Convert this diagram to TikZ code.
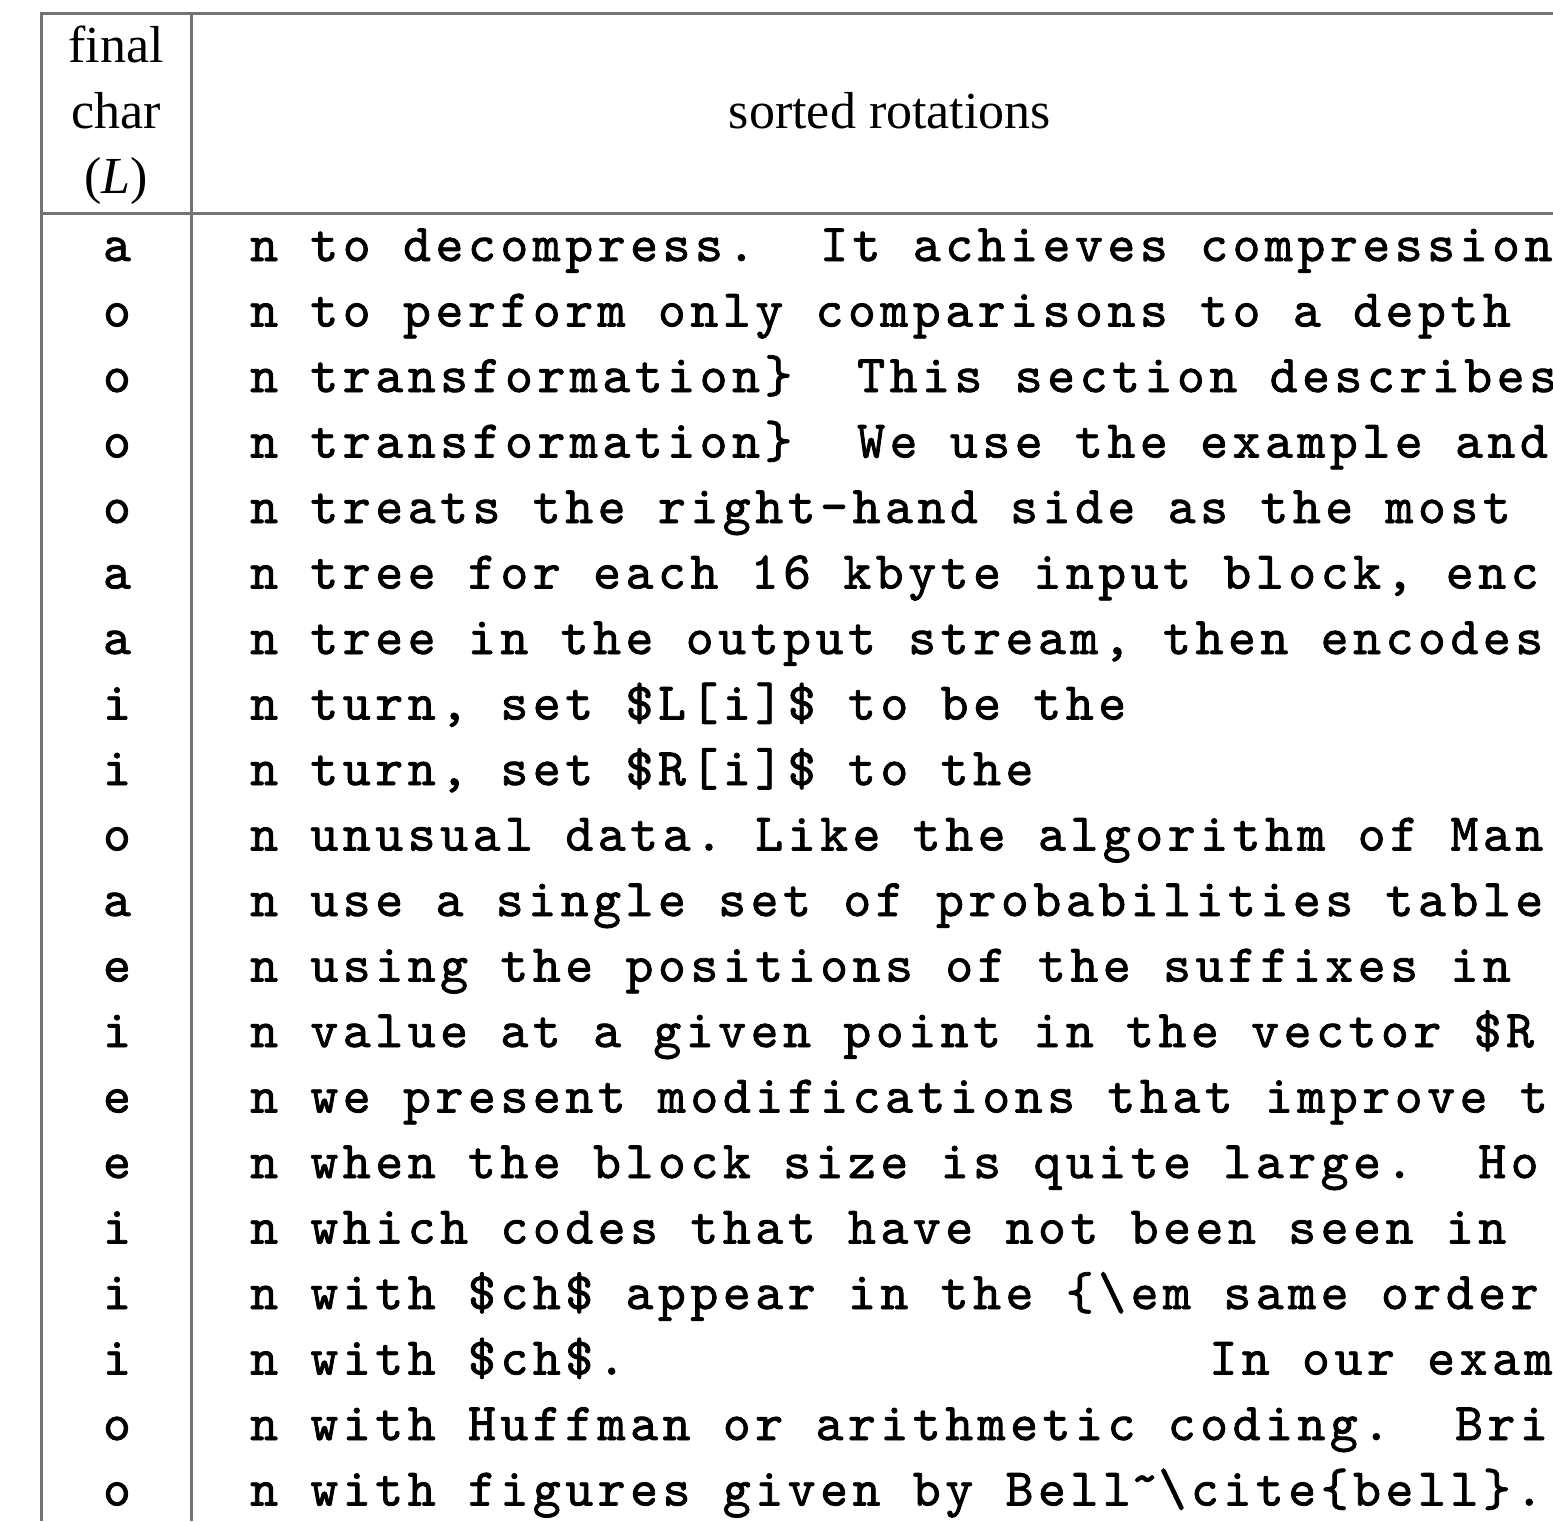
\documentclass[tikz,border=0pt]{standalone}
\usepackage{fontspec}
\setmainfont{Liberation Serif}
\newfontfamily\monof[LetterSpace=8.7,FakeBold=1.5]{lmmono10-regular.otf}
\newcommand\hitilde{\raisebox{0.2em}{\textasciitilde}}
\frenchspacing
\begin{document}
\begin{tikzpicture}[x=1pt,y=-1pt,
  rule/.style={draw=black!55,line width=3pt},
  hd/.style={anchor=base,inner sep=0pt,font=\fontsize{52}{52}\selectfont},
  lc/.style={anchor=base,inner sep=0pt,font=\monof\fontsize{53}{53}\selectfont},
  rc/.style={anchor=base west,inner sep=0pt,font=\monof\fontsize{53}{53}\selectfont}]
\useasboundingbox[fill=white] (0,0) rectangle (1553,1521);
% rules
\draw[rule] (41,1521) -- (41,13) -- (1553,13);
\draw[rule] (191,13) -- (191,1521);
\draw[rule] (41,213) -- (1553,213);
% header
\node[hd] (h1) at (116,62) {final};
\node[hd] (h2) at (116,128) {char};
\node[hd] (h3) at (116,193) {(\textit{L})};
\node[hd] (h4) at (890,128) {sorted rotations};
% final chars
\node[lc] (l1) at (117,261.0) {a};
\node[lc] (l2) at (117,326.5) {o};
\node[lc] (l3) at (117,392.0) {o};
\node[lc] (l4) at (117,457.5) {o};
\node[lc] (l5) at (117,523.0) {o};
\node[lc] (l6) at (117,588.5) {a};
\node[lc] (l7) at (117,654.0) {a};
\node[lc] (l8) at (117,719.5) {i};
\node[lc] (l9) at (117,785.0) {i};
\node[lc] (l10) at (117,850.5) {o};
\node[lc] (l11) at (117,916.0) {a};
\node[lc] (l12) at (117,981.5) {e};
\node[lc] (l13) at (117,1047.0) {i};
\node[lc] (l14) at (117,1112.5) {e};
\node[lc] (l15) at (117,1178.0) {e};
\node[lc] (l16) at (117,1243.5) {i};
\node[lc] (l17) at (117,1309.0) {i};
\node[lc] (l18) at (117,1374.5) {i};
\node[lc] (l19) at (117,1440.0) {o};
\node[lc] (l20) at (117,1505.5) {o};
% rotations
\node[rc] (r1) at (250,261.0) {n to decompress.\ \ It achieves compression};
\node[rc] (r2) at (250,326.5) {n to perform only comparisons to a depth};
\node[rc] (r3) at (250,392.0) {n transformation\}\ \ This section describes};
\node[rc] (r4) at (250,457.5) {n transformation\}\ \ We use the example and};
\node[rc] (r5) at (250,523.0) {n treats the right-hand side as the most};
\node[rc] (r6) at (250,588.5) {n tree for each 16 kbyte input block, enc};
\node[rc] (r7) at (250,654.0) {n tree in the output stream, then encodes};
\node[rc] (r8) at (250,719.5) {n turn, set \$L[i]\$ to be the};
\node[rc] (r9) at (250,785.0) {n turn, set \$R[i]\$ to the};
\node[rc] (r10) at (250,850.5) {n unusual data. Like the algorithm of Man};
\node[rc] (r11) at (250,916.0) {n use a single set of probabilities table};
\node[rc] (r12) at (250,981.5) {n using the positions of the suffixes in};
\node[rc] (r13) at (250,1047.0) {n value at a given point in the vector \$R};
\node[rc] (r14) at (250,1112.5) {n we present modifications that improve t};
\node[rc] (r15) at (250,1178.0) {n when the block size is quite large.\ \ Ho};
\node[rc] (r16) at (250,1243.5) {n which codes that have not been seen in};
\node[rc] (r17) at (250,1309.0) {n with \$ch\$ appear in the \{\textbackslash em same order};
\node[rc] (r18) at (250,1374.5) {n with \$ch\$.\ \ \ \ \ \ \ \ \ \ \ \ \ \ \ \ \ \ In our exam};
\node[rc] (r19) at (250,1440.0) {n with Huffman or arithmetic coding.\ \ Bri};
\node[rc] (r20) at (250,1505.5) {n with figures given by Bell\hitilde\textbackslash cite\{bell\}.};
\end{tikzpicture}
\end{document}
